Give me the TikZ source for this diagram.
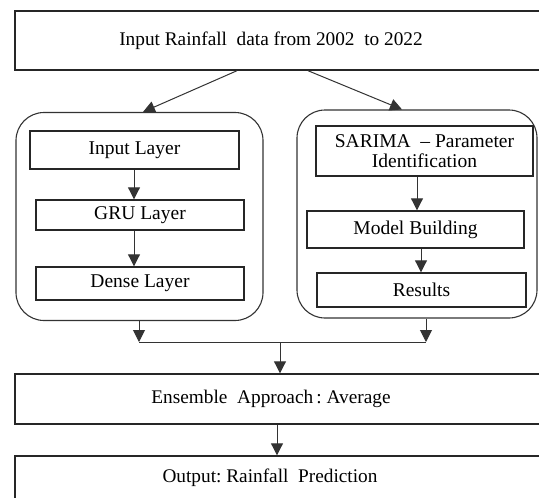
\documentclass[tikz,border=0pt]{standalone}
\usepackage{fontspec}
\setmainfont{Liberation Serif}
\usetikzlibrary{arrows.meta}
\begin{document}
\begin{tikzpicture}[x=1pt,y=-1pt,
  box/.style={draw=black!85, line width=1.4pt, rectangle, inner sep=0pt, font=\fontsize{19.5}{21}\selectfont, align=center},
  wide/.style={box, minimum width=530pt, font=\fontsize{19.3}{22}\selectfont},
  group/.style={draw=black!80, line width=1.1pt, rectangle, rounded corners=28pt, inner sep=0pt},
  flow/.style={draw=black!80, line width=1pt, -{Triangle[width=12pt,length=12pt]}},
  link/.style={draw=black!80, line width=1pt}]
\useasboundingbox (0,0) rectangle (539,498);
\clip (0,0) rectangle (539,498);
\fill[white] (0,0) rectangle (539,498);

% top input box and the two bottom boxes (running past the right edge)
\node[wide, minimum height=59pt] (data) at (280,40.5) {Input Rainfall\ \ data from 2002\ \ to 2022\hspace*{18pt}};
\node[wide, minimum height=50pt] (ens) at (280,399) {Ensemble\ \ Approach\,:\ Average\hspace*{18pt}};
\node[wide, minimum height=44pt] (out) at (280,478) {Output:\ Rainfall\ \ Prediction\hspace*{20pt}};

% GRU branch
\node[group, minimum width=247pt, minimum height=208pt] (gruc) at (139.5,216.5) {};
\node[box, minimum width=209pt, minimum height=38pt] (inl) at (134.5,150) {Input Layer};
\node[box, minimum width=208pt, minimum height=30pt] (grul) at (140,215) {GRU Layer};
\node[box, minimum width=208pt, minimum height=33pt] (dense) at (140,283.5) {Dense Layer};

% SARIMA branch
\node[group, minimum width=240pt, minimum height=208pt] (sarc) at (417,214) {};
\node[box, minimum width=217pt, minimum height=50pt] (par) at (424.5,151) {SARIMA \ -- Parameter\\[-1pt]Identification};
\node[box, minimum width=217pt, minimum height=37pt] (build) at (415.5,229.5) {Model Building};
\node[box, minimum width=209pt, minimum height=34pt] (res) at (421.5,290) {Results};

% joining points below the branches
\coordinate (jl) at (139,342);
\coordinate (jr) at (426,342);
\coordinate (jm) at (280,342);

% connectors
\draw[flow] (data.south -| 237,0) -- (gruc.north -| 143,0);
\draw[flow] (data.south -| 308,0) -- (sarc.north -| 402,0);

\draw[flow] (inl.south -| 134,0) -- (grul.north -| 134,0);
\draw[flow] (grul.south -| 134,0) -- (dense.north -| 134,0);
\draw[flow] (par.south -| 417,0) -- (build.north -| 417,0);
\draw[flow] (build.south -| 421,0) -- (res.north -| 421,0);

\draw[flow] (gruc.south -| jl) -- (jl);
\draw[flow] (sarc.south -| jr) -- (jr);
\draw[link] (jl) -- (jr);
\draw[flow] (jm) -- (ens.north -| jm);
\draw[flow] (ens.south -| 277,0) -- (out.north -| 277,0);
\end{tikzpicture}
\end{document}
